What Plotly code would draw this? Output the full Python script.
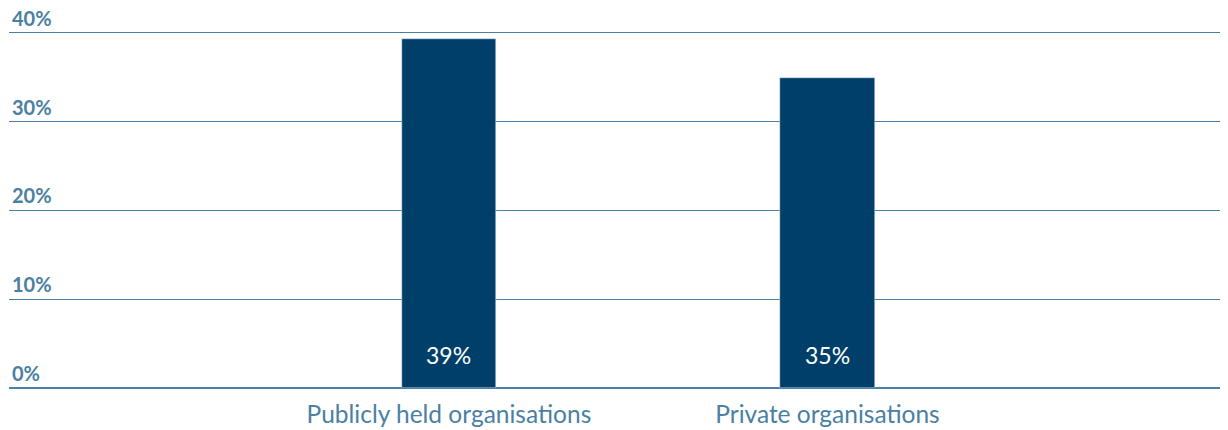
import plotly.graph_objects as go

categories = ["Publicly held organisations", "Private organisations"]
values = [39.3, 34.9]
value_labels = ["39%", "35%"]
tick_vals = [0, 10, 20, 30, 40]
tick_text = ["0%", "10%", "20%", "30%", "40%"]

BAR = "#003f6a"
AXIS = "#4a80a3"

fig = go.Figure()
fig.add_trace(go.Bar(
    x=categories, y=values, marker_color=BAR, width=0.25,
    hoverinfo="skip",
))

for c, lab in zip(categories, value_labels):
    fig.add_annotation(x=c, y=0, xref="x", yref="y", text=lab, showarrow=False,
                       yanchor="bottom", yshift=17,
                       font=dict(family="Lato", size=23, color="white"))

# page body has an 8px default margin, so the figure is sized/offset to fit the window
fig.update_layout(
    width=1220, height=422,
    margin=dict(l=1, r=0, t=23, b=42, autoexpand=False),
    paper_bgcolor="white", plot_bgcolor="white",
    showlegend=False,
    bargap=0,
)
fig.update_xaxes(
    range=[-1.162, 2.058], showgrid=False, showline=False, zeroline=False,
    ticks="", automargin=False, ticklabelstandoff=9,
    tickfont=dict(family="Lato", size=24.5, color=AXIS),
)
fig.update_yaxes(
    range=[0, 40.2], tickvals=tick_vals, ticktext=tick_text,
    ticklabelposition="inside top", ticklabeloverflow="allow", automargin=False,
    showgrid=True, gridcolor=AXIS, gridwidth=1,
    zeroline=True, zerolinecolor=AXIS, zerolinewidth=1.5, showline=False, ticks="",
    tickfont=dict(family="Lato", size=20, color=AXIS, weight="bold"),
)

fig.write_html("out.html")
